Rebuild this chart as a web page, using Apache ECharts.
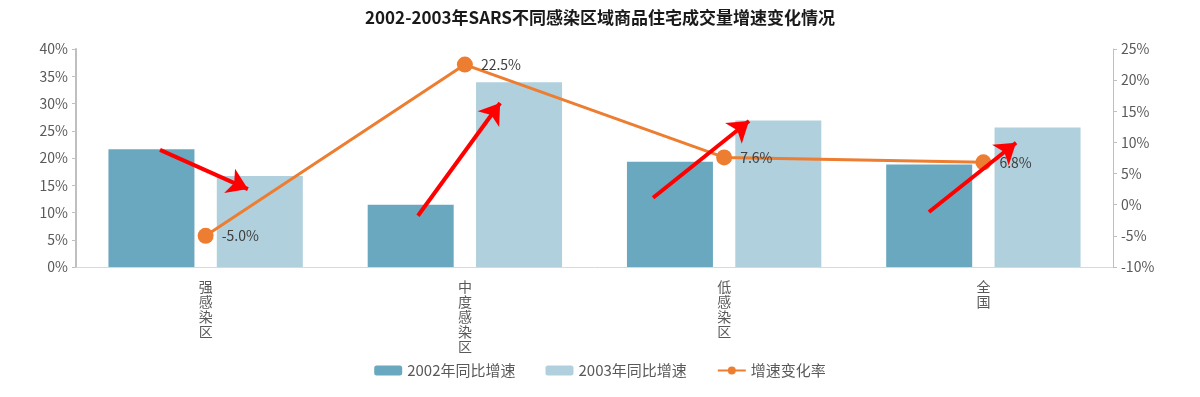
<html lang="zh-CN">
  <head>
    <meta charset="utf-8">
    <title>SARS不同感染区域商品住宅成交量增速</title>
    <script type="text/javascript" src="https://cdn.jsdelivr.net/npm/echarts@6/dist/echarts.min.js"></script>
    <style>
      html, body { margin: 0; padding: 0; background: #fff; }
      #chart { width: 1200px; height: 397px; }
    </style>
  </head>
  <body>
    <div id="chart"></div>

    <script>
      // 数据
      var regions = ['强感染区', '中度感染区', '低感染区', '全国'];
      var growth2002 = [21.6, 11.4, 19.3, 18.8];
      var growth2003 = [16.7, 33.9, 26.9, 25.6];
      var changeRate = [-5.0, 22.5, 7.6, 6.8];
      var leftTicks = [0, 40, 5];
      var rightTicks = [-10, 25, 5];
      // 红色箭头标注 (x: 类目位置 0-4, y: 左轴百分比)
      var arrows = [
        [[0.324, 21.5], [0.663, 14.3]],
        [[1.319, 9.4], [1.636, 30.1]],
        [[2.226, 12.7], [2.596, 26.8]],
        [[3.29, 10.1], [3.626, 22.8]]
      ];

      var font = '"Noto Sans CJK SC", "Microsoft YaHei", sans-serif';
      var chart = echarts.init(document.getElementById('chart'));

      chart.setOption({
        animation: false,
        textStyle: { fontFamily: font },
        title: {
          text: '2002-2003年SARS不同感染区域商品住宅成交量增速变化情况',
          left: 'center',
          top: 4,
          textStyle: { fontSize: 17, fontWeight: 'bold', color: '#1a1a1a', fontFamily: font }
        },
        legend: {
          bottom: 14,
          left: 'center',
          itemWidth: 28,
          itemHeight: 10,
          itemGap: 30,
          textStyle: { fontSize: 15, color: '#595959' },
          data: ['2002年同比增速', '2003年同比增速', '增速变化率']
        },
        grid: { left: 76, right: 87, top: 49, bottom: 130 },
        xAxis: [{
          type: 'category',
          data: regions,
          axisLine: { lineStyle: { color: '#d9d9d9', width: 1 } },
          axisTick: { show: false },
          axisLabel: {
            color: '#595959',
            fontSize: 14,
            lineHeight: 15,
            margin: 12,
            formatter: function (v) { return v.split('').join('\n'); }
          }
        }, {
          type: 'value',
          min: 0,
          max: 4,
          show: false
        }],
        yAxis: [{
          type: 'value',
          min: leftTicks[0],
          max: leftTicks[1],
          interval: leftTicks[2],
          splitLine: { show: false },
          axisLine: { show: true, lineStyle: { color: '#bfbfbf', width: 2 } },
          axisTick: { show: true, length: 4, lineStyle: { color: '#bfbfbf' } },
          axisLabel: { color: '#595959', fontSize: 14, margin: 8, formatter: '{value}%' }
        }, {
          type: 'value',
          min: rightTicks[0],
          max: rightTicks[1],
          interval: rightTicks[2],
          splitLine: { show: false },
          axisLine: { show: true, lineStyle: { color: '#bfbfbf', width: 1 } },
          axisTick: { show: true, length: 4, lineStyle: { color: '#bfbfbf' } },
          axisLabel: { color: '#595959', fontSize: 14, margin: 8, formatter: '{value}%' }
        }],
        series: [{
          name: '2002年同比增速',
          type: 'bar',
          data: growth2002,
          barWidth: 86,
          barGap: '26%',
          itemStyle: { color: '#6aa8bf' }
        }, {
          name: '2003年同比增速',
          type: 'bar',
          data: growth2003,
          barWidth: 86,
          itemStyle: { color: '#afd0dc' }
        }, {
          name: '增速变化率',
          type: 'line',
          yAxisIndex: 1,
          data: changeRate,
          symbol: 'circle',
          symbolSize: 16,
          itemStyle: { color: '#ed7d31' },
          lineStyle: { color: '#ed7d31', width: 3 },
          label: {
            show: true,
            position: 'right',
            distance: 8,
            color: '#404040',
            fontSize: 14,
            formatter: function (p) { return p.value.toFixed(1) + '%'; }
          },
          z: 3
        }, {
          type: 'lines',
          coordinateSystem: 'cartesian2d',
          xAxisIndex: 1,
          yAxisIndex: 0,
          polyline: false,
          symbol: ['none', 'arrow'],
          symbolSize: 20,
          lineStyle: { color: '#ff0000', width: 4, opacity: 1 },
          data: arrows.map(function (a) { return { coords: a }; }),
          z: 5
        }]
      });
    </script>
  </body>
</html>
